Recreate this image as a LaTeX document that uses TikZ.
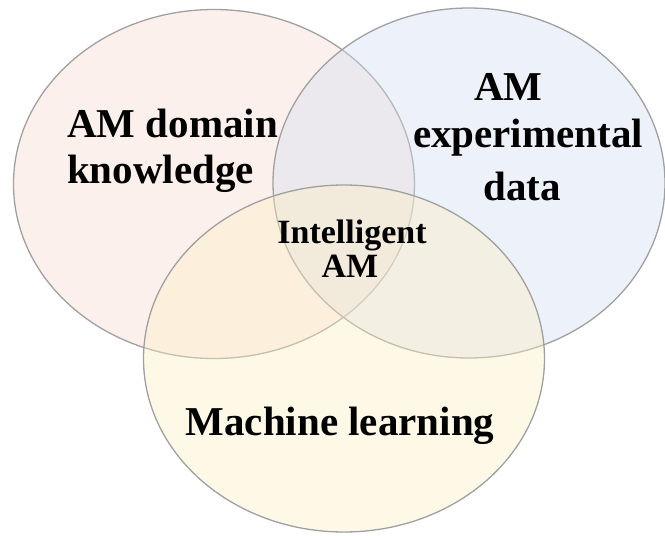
\documentclass[tikz,border=0pt]{standalone}
\usepackage{fontspec}
\setmainfont{Liberation Serif}
\definecolor{pinkbase}{RGB}{248,218,208}
\definecolor{bluebase}{RGB}{210,222,242}
\definecolor{yellowbase}{RGB}{253,238,193}
\definecolor{edgegray}{RGB}{160,160,160}
\tikzset{
  setcircle/.style={draw=edgegray, line width=1.3pt, fill opacity=0.4},
  bigtext/.style={font=\bfseries\fontsize{41}{47}\selectfont, inner sep=0pt, text=black},
  midtext/.style={font=\bfseries\fontsize{34}{38}\selectfont, inner sep=0pt, text=black}
}
\begin{document}
\begin{tikzpicture}[x=1pt,y=-1pt]
\useasboundingbox (0,0) rectangle (665,536);
\path[setcircle, fill=pinkbase] (214,184) ellipse [x radius=200.5, y radius=174.5];
\path[setcircle, fill=bluebase] (469,183) ellipse [x radius=196, y radius=175];
\path[setcircle, fill=yellowbase] (344,358.5) ellipse [x radius=200.5, y radius=173.5];
\node[bigtext, anchor=base west] (k1) at (67,137) {AM domain};
\node[bigtext, anchor=base west] (k2) at (67,183) {knowledge};
\node[bigtext, anchor=base] (e1) at (508.5,100) {AM};
\node[bigtext, anchor=base] (e2) at (528,147) {experimental};
\node[bigtext, anchor=base] (e3) at (522,200) {data};
\node[midtext, anchor=base] (i1) at (352,243) {Intelligent};
\node[midtext, anchor=base] (i2) at (350,277) {AM};
\node[bigtext, anchor=base] (m1) at (340,435) {Machine learning};
\end{tikzpicture}
\end{document}
